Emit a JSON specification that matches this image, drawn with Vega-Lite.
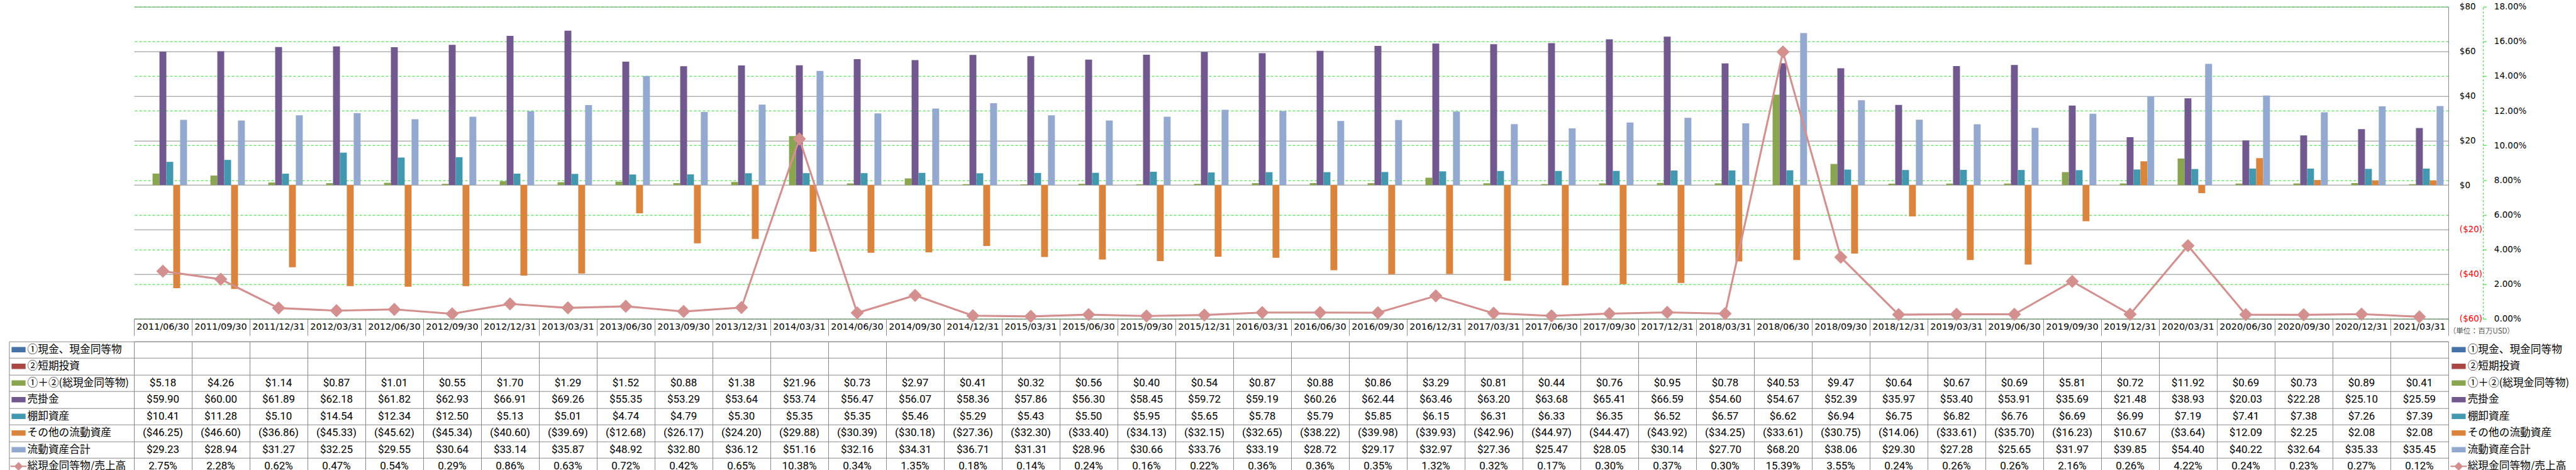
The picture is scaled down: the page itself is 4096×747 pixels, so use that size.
{
  "$schema": "https://vega.github.io/schema/vega-lite/v6.json",
  "background": "white",
  "padding": {"left": 13, "top": 3.7, "right": 0, "bottom": 0},
  "config": {"view": {"stroke": null}},
  "datasets": {
    "main": [
      {"d": "2011/06/30", "c12": 5.18, "ar": 59.90, "inv": 10.41, "oth": -46.25, "tot": 29.23, "rat": 2.75},
      {"d": "2011/09/30", "c12": 4.26, "ar": 60.00, "inv": 11.28, "oth": -46.60, "tot": 28.94, "rat": 2.28},
      {"d": "2011/12/31", "c12": 1.14, "ar": 61.89, "inv": 5.10, "oth": -36.86, "tot": 31.27, "rat": 0.62},
      {"d": "2012/03/31", "c12": 0.87, "ar": 62.18, "inv": 14.54, "oth": -45.33, "tot": 32.25, "rat": 0.47},
      {"d": "2012/06/30", "c12": 1.01, "ar": 61.82, "inv": 12.34, "oth": -45.62, "tot": 29.55, "rat": 0.54},
      {"d": "2012/09/30", "c12": 0.55, "ar": 62.93, "inv": 12.50, "oth": -45.34, "tot": 30.64, "rat": 0.29},
      {"d": "2012/12/31", "c12": 1.70, "ar": 66.91, "inv": 5.13, "oth": -40.60, "tot": 33.14, "rat": 0.86},
      {"d": "2013/03/31", "c12": 1.29, "ar": 69.26, "inv": 5.01, "oth": -39.69, "tot": 35.87, "rat": 0.63},
      {"d": "2013/06/30", "c12": 1.52, "ar": 55.35, "inv": 4.74, "oth": -12.68, "tot": 48.92, "rat": 0.72},
      {"d": "2013/09/30", "c12": 0.88, "ar": 53.29, "inv": 4.79, "oth": -26.17, "tot": 32.80, "rat": 0.42},
      {"d": "2013/12/31", "c12": 1.38, "ar": 53.64, "inv": 5.30, "oth": -24.20, "tot": 36.12, "rat": 0.65},
      {"d": "2014/03/31", "c12": 21.96, "ar": 53.74, "inv": 5.35, "oth": -29.88, "tot": 51.16, "rat": 10.38},
      {"d": "2014/06/30", "c12": 0.73, "ar": 56.47, "inv": 5.35, "oth": -30.39, "tot": 32.16, "rat": 0.34},
      {"d": "2014/09/30", "c12": 2.97, "ar": 56.07, "inv": 5.46, "oth": -30.18, "tot": 34.31, "rat": 1.35},
      {"d": "2014/12/31", "c12": 0.41, "ar": 58.36, "inv": 5.29, "oth": -27.36, "tot": 36.71, "rat": 0.18},
      {"d": "2015/03/31", "c12": 0.32, "ar": 57.86, "inv": 5.43, "oth": -32.30, "tot": 31.31, "rat": 0.14},
      {"d": "2015/06/30", "c12": 0.56, "ar": 56.30, "inv": 5.50, "oth": -33.40, "tot": 28.96, "rat": 0.24},
      {"d": "2015/09/30", "c12": 0.40, "ar": 58.45, "inv": 5.95, "oth": -34.13, "tot": 30.66, "rat": 0.16},
      {"d": "2015/12/31", "c12": 0.54, "ar": 59.72, "inv": 5.65, "oth": -32.15, "tot": 33.76, "rat": 0.22},
      {"d": "2016/03/31", "c12": 0.87, "ar": 59.19, "inv": 5.78, "oth": -32.65, "tot": 33.19, "rat": 0.36},
      {"d": "2016/06/30", "c12": 0.88, "ar": 60.26, "inv": 5.79, "oth": -38.22, "tot": 28.72, "rat": 0.36},
      {"d": "2016/09/30", "c12": 0.86, "ar": 62.44, "inv": 5.85, "oth": -39.98, "tot": 29.17, "rat": 0.35},
      {"d": "2016/12/31", "c12": 3.29, "ar": 63.46, "inv": 6.15, "oth": -39.93, "tot": 32.97, "rat": 1.32},
      {"d": "2017/03/31", "c12": 0.81, "ar": 63.20, "inv": 6.31, "oth": -42.96, "tot": 27.36, "rat": 0.32},
      {"d": "2017/06/30", "c12": 0.44, "ar": 63.68, "inv": 6.33, "oth": -44.97, "tot": 25.47, "rat": 0.17},
      {"d": "2017/09/30", "c12": 0.76, "ar": 65.41, "inv": 6.35, "oth": -44.47, "tot": 28.05, "rat": 0.30},
      {"d": "2017/12/31", "c12": 0.95, "ar": 66.59, "inv": 6.52, "oth": -43.92, "tot": 30.14, "rat": 0.37},
      {"d": "2018/03/31", "c12": 0.78, "ar": 54.60, "inv": 6.57, "oth": -34.25, "tot": 27.70, "rat": 0.30},
      {"d": "2018/06/30", "c12": 40.53, "ar": 54.67, "inv": 6.62, "oth": -33.61, "tot": 68.20, "rat": 15.39},
      {"d": "2018/09/30", "c12": 9.47, "ar": 52.39, "inv": 6.94, "oth": -30.75, "tot": 38.06, "rat": 3.55},
      {"d": "2018/12/31", "c12": 0.64, "ar": 35.97, "inv": 6.75, "oth": -14.06, "tot": 29.30, "rat": 0.24},
      {"d": "2019/03/31", "c12": 0.67, "ar": 53.40, "inv": 6.82, "oth": -33.61, "tot": 27.28, "rat": 0.26},
      {"d": "2019/06/30", "c12": 0.69, "ar": 53.91, "inv": 6.76, "oth": -35.70, "tot": 25.65, "rat": 0.26},
      {"d": "2019/09/30", "c12": 5.81, "ar": 35.69, "inv": 6.69, "oth": -16.23, "tot": 31.97, "rat": 2.16},
      {"d": "2019/12/31", "c12": 0.72, "ar": 21.48, "inv": 6.99, "oth": 10.67, "tot": 39.85, "rat": 0.26},
      {"d": "2020/03/31", "c12": 11.92, "ar": 38.93, "inv": 7.19, "oth": -3.64, "tot": 54.40, "rat": 4.22},
      {"d": "2020/06/30", "c12": 0.69, "ar": 20.03, "inv": 7.41, "oth": 12.09, "tot": 40.22, "rat": 0.24},
      {"d": "2020/09/30", "c12": 0.73, "ar": 22.28, "inv": 7.38, "oth": 2.25, "tot": 32.64, "rat": 0.23},
      {"d": "2020/12/31", "c12": 0.89, "ar": 25.10, "inv": 7.26, "oth": 2.08, "tot": 35.33, "rat": 0.27},
      {"d": "2021/03/31", "c12": 0.41, "ar": 25.59, "inv": 7.39, "oth": 2.08, "tot": 35.45, "rat": 0.12}
    ]
  },
  "spacing": 0,
  "resolve": {"scale": {"x": "independent", "color": "independent", "fill": "independent"}},
  "vconcat": [
    {
      "width": 3680,
      "height": 496,
      "data": {"name": "main"},
      "encoding": {
        "x": {
          "field": "d", "type": "nominal", "sort": null,
          "scale": {"type": "band", "paddingInner": 0, "paddingOuter": 0},
          "axis": {
            "orient": "bottom",
            "title": "（単位：百万USD）", "titleAnchor": "end", "titleAlign": "left", "titleBaseline": "middle",
            "titlePadding": -8.5, "titleFont": "Noto Sans CJK JP", "titleFontSize": 11.7, "titleFontWeight": 300, "titleColor": "#000000",
            "domain": true, "domainColor": "#898989",
            "ticks": true, "tickColor": "#898989", "tickSize": 26.5, "bandPosition": 1, "tickExtra": true,
            "labelPadding": -13.25, "labelBaseline": "middle", "labelAngle": 0,
            "labelFont": "DejaVu Sans", "labelFontSize": 14.5, "labelColor": "#000000",
            "labelOverlap": false, "labelFlush": false, "grid": false
          }
        }
      },
      "layer": [
        {
          "transform": [
            {"fold": ["c12", "ar", "inv", "oth", "tot"], "as": ["k", "v"]},
            {"calculate": "['①＋②(総現金同等物)','売掛金','棚卸資産','その他の流動資産','流動資産合計'][indexof(['c12','ar','inv','oth','tot'], datum.k)]", "as": "s"}
          ],
          "mark": {"type": "bar"},
          "encoding": {
            "xOffset": {
              "field": "s", "type": "nominal",
              "scale": {"domain": ["①現金、現金同等物", "②短期投資", "①＋②(総現金同等物)", "売掛金", "棚卸資産", "その他の流動資産", "流動資産合計"], "paddingInner": 0, "paddingOuter": 0.7}
            },
            "y": {
              "field": "v", "type": "quantitative",
              "scale": {"domain": [-60, 80], "nice": false, "zero": false},
              "axis": {
                "orient": "right", "title": null,
                "values": [-60, -40, -20, 0, 20, 40, 60, 80],
                "grid": true, "gridColor": "#898989", "gridWidth": 1,
                "domain": true, "domainColor": "#898989",
                "ticks": false,
                "labelExpr": "datum.value < 0 ? '($' + (-datum.value) + ')' : '$' + datum.value",
                "labelColor": {"condition": {"test": "datum.value < 0", "value": "#FF0000"}, "value": "#000000"},
                "labelFont": "DejaVu Sans", "labelFontSize": 13.5, "labelPadding": 17.4,
                "labelFlush": false, "labelOverlap": false
              }
            },
            "color": {
              "field": "s", "type": "nominal",
              "scale": {
                "domain": ["①現金、現金同等物", "②短期投資", "①＋②(総現金同等物)", "売掛金", "棚卸資産", "その他の流動資産", "流動資産合計"],
                "range": ["#4572A7", "#AA4643", "#89A54E", "#71588F", "#4198AF", "#DB843D", "#93A9CF"]
              },
              "legend": null
            }
          }
        },
        {
          "mark": {
            "type": "line", "color": "#D4908F", "strokeWidth": 3.1,
            "point": {"shape": "diamond", "size": 441, "filled": true, "color": "#D4908F", "opacity": 1}
          },
          "encoding": {
            "y": {
              "field": "rat", "type": "quantitative",
              "scale": {"domain": [0, 18], "nice": false},
              "axis": {
                "orient": "right", "title": null, "offset": 55,
                "values": [0, 2, 4, 6, 8, 10, 12, 14, 16, 18],
                "grid": true, "gridColor": "#22DD22", "gridDash": [4, 3], "gridWidth": 1,
                "domain": true, "domainColor": "#22DD22", "domainDash": [3, 3],
                "ticks": true, "tickColor": "#22DD22", "tickSize": 5.6,
                "labelExpr": "format(datum.value, '.2f') + '%'",
                "labelFont": "DejaVu Sans", "labelFontSize": 13.5, "labelPadding": 11.8, "labelColor": "#000000",
                "labelFlush": false, "labelOverlap": false
              }
            }
          }
        }
      ],
      "resolve": {"scale": {"y": "independent"}}
    },
    {
      "width": 3680,
      "height": 212,
      "view": {"stroke": "#898989"},
      "data": {"name": "main"},
      "transform": [
        {"fold": ["c12", "ar", "inv", "oth", "tot", "rat"], "as": ["k", "v"]},
        {"calculate": "['①＋②(総現金同等物)','売掛金','棚卸資産','その他の流動資産','流動資産合計','総現金同等物/売上高'][indexof(['c12','ar','inv','oth','tot','rat'], datum.k)]", "as": "r"},
        {"calculate": "datum.k === 'rat' ? format(datum.v, '.2f') + '%' : (datum.v < 0 ? '($' + format(-datum.v, '.2f') + ')' : '$' + format(datum.v, '.2f'))", "as": "txt"},
        {"calculate": "datum.r + '_L'", "as": "lk"}
      ],
      "encoding": {
        "x": {
          "field": "d", "type": "nominal", "sort": null,
          "scale": {"type": "band", "paddingInner": 0, "paddingOuter": 0},
          "axis": {"orient": "top", "title": null, "labels": false, "ticks": false, "domain": false, "grid": true, "gridColor": "#898989", "bandPosition": 0, "minExtent": 0, "maxExtent": 0}
        }
      },
      "layer": [
        {
          "mark": {"type": "text", "font": "Liberation Sans Narrow, Roboto, sans-serif", "fontSize": 17, "color": "#000000"},
          "encoding": {
            "y": {
              "field": "r", "type": "nominal",
              "scale": {"type": "band", "domain": ["①現金、現金同等物", "②短期投資", "①＋②(総現金同等物)", "売掛金", "棚卸資産", "その他の流動資産", "流動資産合計", "総現金同等物/売上高"], "paddingInner": 0, "paddingOuter": 0},
              "axis": {
                "orient": "left", "title": null, "domain": false,
                "grid": true, "gridColor": "#898989",
                "ticks": true, "tickColor": "#898989", "tickSize": 198.6, "bandPosition": 1, "tickExtra": true,
                "labels": true, "labelAlign": "left", "labelBaseline": "middle", "labelPadding": -28.6,
                "labelFont": "Noto Sans CJK JP", "labelFontSize": 16.7, "labelColor": "#000000", "labelLimit": 0, "labelOverlap": false
              }
            },
            "text": {"field": "txt"}
          }
        },
        {
          "mark": {"type": "point", "filled": true, "opacity": 0, "shape": "M-0.84,-0.317H0.84V0.317H-0.84Z"},
          "encoding": {
            "y": {
              "field": "r", "type": "nominal",
              "scale": {"type": "band", "domain": ["①現金、現金同等物", "②短期投資", "①＋②(総現金同等物)", "売掛金", "棚卸資産", "その他の流動資産", "流動資産合計", "総現金同等物/売上高"], "paddingInner": 0, "paddingOuter": 0},
              "axis": null
            },
            "color": {
              "field": "r", "type": "nominal",
              "scale": {
                "domain": ["①現金、現金同等物", "②短期投資", "①＋②(総現金同等物)", "売掛金", "棚卸資産", "その他の流動資産", "流動資産合計", "総現金同等物/売上高"],
                "range": ["#4572A7", "#AA4643", "#89A54E", "#71588F", "#4198AF", "#DB843D", "#93A9CF", "#D4908F"]
              },
              "legend": {
                "orient": "right", "offset": 2.8, "padding": 0, "title": null,
                "labelFont": "Noto Sans CJK JP", "labelFontSize": 16.7, "labelColor": "#000000", "labelOffset": 0.7, "labelLimit": 0,
                "symbolType": "M-0.84,-0.317H0.84V0.317H-0.84Z",
                "symbolSize": 702, "symbolOpacity": 1, "symbolStrokeWidth": 0,
                "clipHeight": 26, "rowPadding": 0.5,
                "encode": {"symbols": {"update": {"shape": {"signal": "datum.value === '総現金同等物/売上高' ? 'M-0.97,-0.087H0.97V0.087H-0.97ZM0,-0.53L0.53,0L0,0.53L-0.53,0Z' : 'M-0.84,-0.317H0.84V0.317H-0.84Z'"}, "opacity": {"value": 1}}}}
              }
            }
          }
        },
        {
          "mark": {"type": "point", "filled": true, "opacity": 0, "shape": "M-0.84,-0.317H0.84V0.317H-0.84Z"},
          "encoding": {
            "y": {
              "field": "r", "type": "nominal",
              "scale": {"type": "band", "domain": ["①現金、現金同等物", "②短期投資", "①＋②(総現金同等物)", "売掛金", "棚卸資産", "その他の流動資産", "流動資産合計", "総現金同等物/売上高"], "paddingInner": 0, "paddingOuter": 0},
              "axis": {"orient": "left", "title": null, "offset": 198.6, "domain": true, "domainColor": "#898989", "ticks": false, "labels": false, "grid": false}
            },
            "fill": {
              "field": "lk", "type": "nominal",
              "scale": {
                "domain": ["①現金、現金同等物_L", "②短期投資_L", "①＋②(総現金同等物)_L", "売掛金_L", "棚卸資産_L", "その他の流動資産_L", "流動資産合計_L", "総現金同等物/売上高_L"],
                "range": ["#4572A7", "#AA4643", "#89A54E", "#71588F", "#4198AF", "#DB843D", "#93A9CF", "#D4908F"]
              },
              "legend": {
                "orient": "left", "offset": -30, "padding": 0, "title": null,
                "labelExpr": "'\u00a0'", "labelFont": "Noto Sans CJK JP", "labelFontSize": 16.7, "labelOffset": 0, "labelLimit": 0,
                "symbolType": "M-0.84,-0.317H0.84V0.317H-0.84Z",
                "symbolSize": 702, "symbolOpacity": 1, "symbolStrokeWidth": 0,
                "clipHeight": 26, "rowPadding": 0.5,
                "encode": {"symbols": {"update": {"shape": {"signal": "datum.value === '総現金同等物/売上高_L' ? 'M-0.97,-0.087H0.97V0.087H-0.97ZM0,-0.53L0.53,0L0,0.53L-0.53,0Z' : 'M-0.84,-0.317H0.84V0.317H-0.84Z'"}, "opacity": {"value": 1}}}}
              }
            }
          }
        }
      ],
      "resolve": {"scale": {"y": "independent"}}
    }
  ]
}
